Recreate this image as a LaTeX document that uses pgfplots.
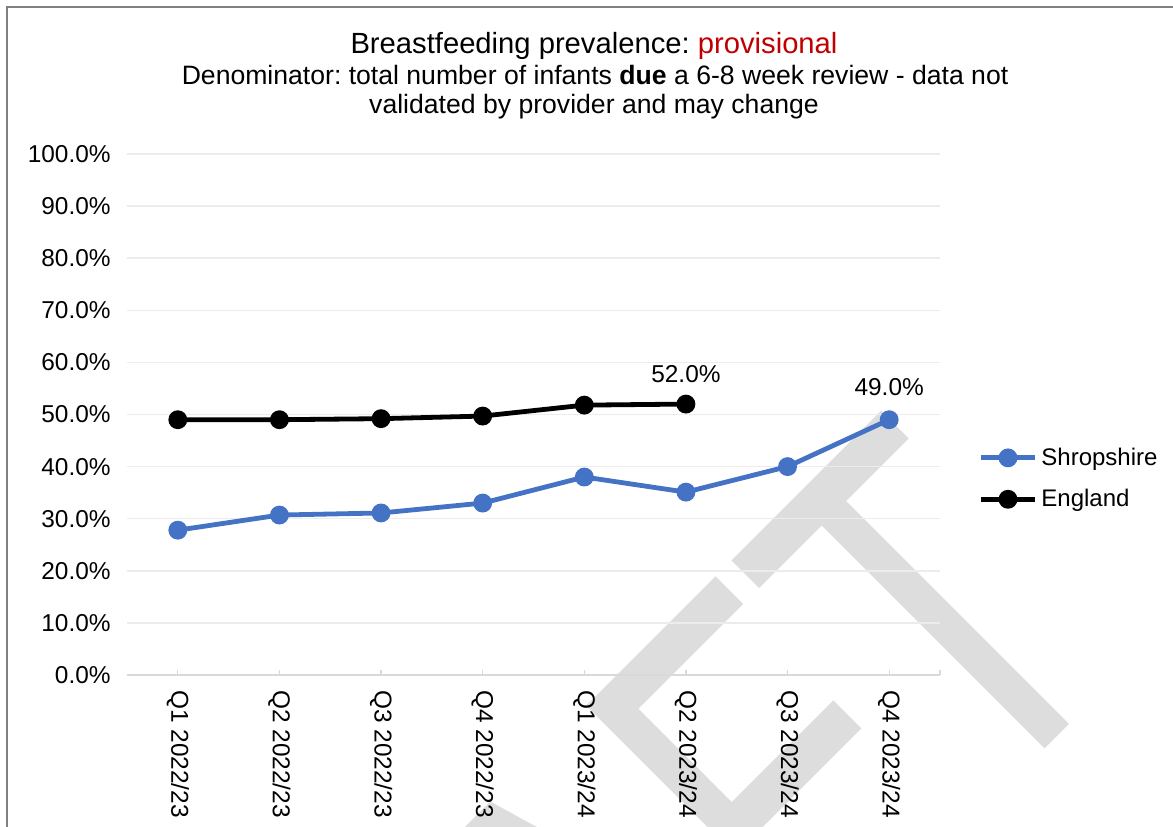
\documentclass[border=0pt]{standalone}
\usepackage{fontspec}
\setmainfont{Liberation Sans}
\usepackage{pgfplots}
\pgfplotsset{compat=1.18}
\frenchspacing

\definecolor{shrop}{RGB}{68,114,196}
\definecolor{gridgray}{RGB}{236,236,236}
\definecolor{axisgray}{RGB}{217,217,217}
\definecolor{wmgray}{RGB}{221,221,221}
\definecolor{framegray}{RGB}{128,128,128}
\definecolor{provred}{RGB}{192,0,0}

\begin{document}
\begin{tikzpicture}
% page = 1173 x 826 px of the reference, 1 px = 0.5pt, y upwards
\useasboundingbox (0,0) rectangle (586.5pt,413pt);
\clip (0,0) rectangle (586.5pt,413pt);

\begin{scope}[x=0.5pt,y=0.5pt]
% DRAFT watermark, behind the chart
\node[anchor=base east, inner sep=0pt, rotate=45, xscale=0.727, text=wmgray,
  font=\fontsize{257.6pt}{260pt}\selectfont] at (1139,171) {DRAFT};

% chart frame
\draw[framegray, line width=1pt] (7,-20) -- (7,819) -- (1190,819);

% titles
\node[anchor=base, font=\fontsize{14.6pt}{17pt}\selectfont] at (594,772)
  {Breastfeeding prevalence: \textcolor{provred}{provisional}};
\node[anchor=base, font=\fontsize{13.3pt}{16pt}\selectfont] at (595,741)
  {Denominator: total number of infants \textbf{due} a 6-8 week review - data not};
\node[anchor=base, font=\fontsize{13.3pt}{16pt}\selectfont] at (594,712)
  {validated by provider and may change};
\end{scope}

\begin{axis}[
  at={(63.5pt,75.5pt)}, anchor=south west,
  scale only axis, width=406.5pt, height=260.5pt,
  xmin=-0.5, xmax=7.5, ymin=0, ymax=100,
  clip=false,
  axis x line*=bottom, axis y line*=left,
  y axis line style={draw=none},
  x axis line style={draw=axisgray, line width=1pt},
  xtick={0,1,2,3,4,5,6,7},
  xticklabels={Q1 2022/23,Q2 2022/23,Q3 2022/23,Q4 2022/23,Q1 2023/24,Q2 2023/24,Q3 2023/24,Q4 2023/24},
  extra x ticks={7.5}, extra x tick labels={},
  xtick align=inside, major tick length=2.5pt,
  xtick style={draw=axisgray, line width=0.6pt},
  xticklabel style={rotate=-90, anchor=west, inner sep=0pt, font=\fontsize{12.2pt}{14pt}\selectfont},
  xticklabel shift=7.5pt,
  ytick={0,10,20,30,40,50,60,70,80,90,100},
  yticklabels={0.0\%,10.0\%,20.0\%,30.0\%,40.0\%,50.0\%,60.0\%,70.0\%,80.0\%,90.0\%,100.0\%},
  ytick style={draw=none},
  yticklabel style={inner sep=0pt, font=\fontsize{12.2pt}{14pt}\selectfont},
  yticklabel shift=8pt,
  ymajorgrids, major grid style={draw=gridgray, line width=0.75pt},
  legend style={draw=none, fill=none, at={(1.047,0.377)}, anchor=west,
    font=\fontsize{12pt}{14pt}\selectfont, row sep=6.5pt, inner sep=0pt},
  legend cell align=left,
  legend image code/.code={
    \draw[mark repeat=2,mark phase=2,#1] plot coordinates {(0pt,0pt) (13.5pt,0pt) (27pt,0pt)};
  },
]
\addplot[shrop, line width=2.4pt, mark=*, mark size=3.5pt, mark options={solid}] coordinates {
 (0,27.8)(1,30.7)(2,31.1)(3,33.0)(4,38.0)(5,35.1)(6,40.0)(7,49.0)
};
\addlegendentry{Shropshire}
\addplot[black, line width=2.4pt, mark=*, mark size=3.5pt, mark options={solid}] coordinates {
 (0,49.0)(1,49.0)(2,49.2)(3,49.7)(4,51.8)(5,52.0)
};
\addlegendentry{England}
\node[anchor=base, yshift=11pt, font=\fontsize{12.2pt}{14pt}\selectfont] at (axis cs:5,52.0) {52.0\%};
\node[anchor=base, yshift=12pt, font=\fontsize{12.2pt}{14pt}\selectfont] at (axis cs:7,49.0) {49.0\%};
\end{axis}
\end{tikzpicture}
\end{document}
